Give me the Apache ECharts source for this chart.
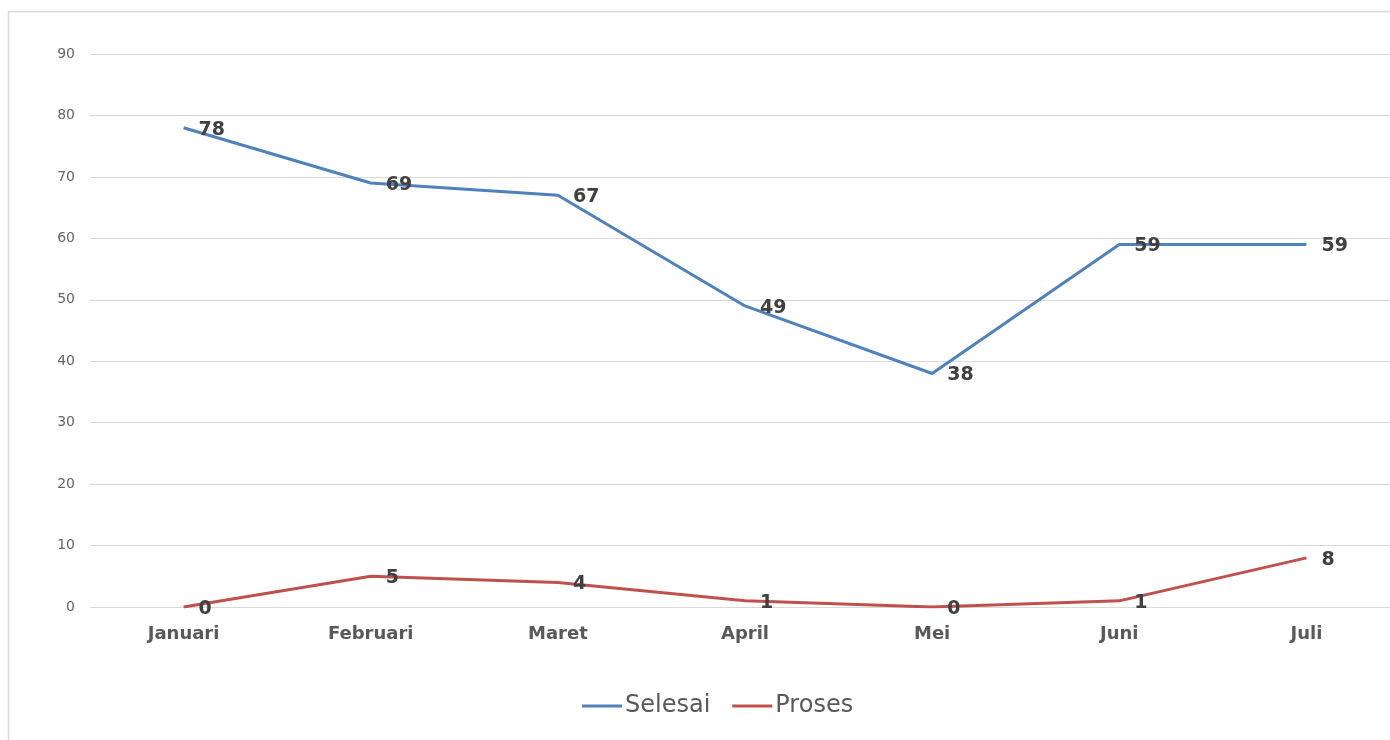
<!DOCTYPE html>
<html><head><meta charset="utf-8">
<script src="https://cdn.jsdelivr.net/npm/echarts@6/dist/echarts.min.js"></script>
<style>html,body{margin:0;padding:0;background:#fff;overflow:hidden;width:1390px;height:740px;}#c{width:1400px;height:740px;}</style>
</head><body><div id="c"></div>
<script>
const categories = ['Januari','Februari','Maret','April','Mei','Juni','Juli'];
const selesai = [78, 69, 67, 49, 38, 59, 59];
const proses = [0, 5, 4, 1, 0, 1, 8];
const yTicks = {min: 0, max: 90, interval: 10};

const chart = echarts.init(document.getElementById('c'));
const labelStyle = {show: true, position: 'right', distance: 15, offset: [0, 2], fontWeight: 'bold', fontSize: 19, color: '#404040', fontFamily: 'DejaVu Sans'};
chart.setOption({
  animation: false,
  backgroundColor: '#fff',
  graphic: [{type: 'rect', shape: {x: 8.5, y: 11.5, width: 1500, height: 800}, style: {fill: 'none', stroke: '#d9d9d9', lineWidth: 1.5}, silent: true}],
  grid: {left: 90, top: 54, right: 0, height: 553},
  legend: {top: 689, left: 577, itemWidth: 40, itemHeight: 3, itemGap: 22, icon: 'rect',
    textStyle: {fontSize: 24, color: '#595959', fontFamily: 'DejaVu Sans', padding: [0, 0, 0, -2]},
    data: ['Selesai', 'Proses']},
  xAxis: {type: 'category', data: categories, boundaryGap: true,
    axisLine: {show: true, lineStyle: {color: '#d9d9d9'}}, axisTick: {show: false},
    axisLabel: {fontWeight: 'bold', fontSize: 18, color: '#595959', margin: 18, fontFamily: 'DejaVu Sans'}},
  yAxis: {type: 'value', min: yTicks.min, max: yTicks.max, interval: yTicks.interval,
    axisLine: {show: false}, axisTick: {show: false},
    splitLine: {lineStyle: {color: '#d9d9d9', width: 1}},
    axisLabel: {fontSize: 14, color: '#666666', margin: 15, fontFamily: 'DejaVu Sans'}},
  series: [
    {name: 'Selesai', type: 'line', data: selesai, showSymbol: true, symbol: 'circle', symbolSize: 0.1,
     lineStyle: {color: '#4f81bd', width: 3}, itemStyle: {color: '#4f81bd'}, label: labelStyle},
    {name: 'Proses', type: 'line', data: proses, showSymbol: true, symbol: 'circle', symbolSize: 0.1,
     lineStyle: {color: '#c0504d', width: 3}, itemStyle: {color: '#c0504d'}, label: labelStyle}
  ]
});
</script></body></html>
